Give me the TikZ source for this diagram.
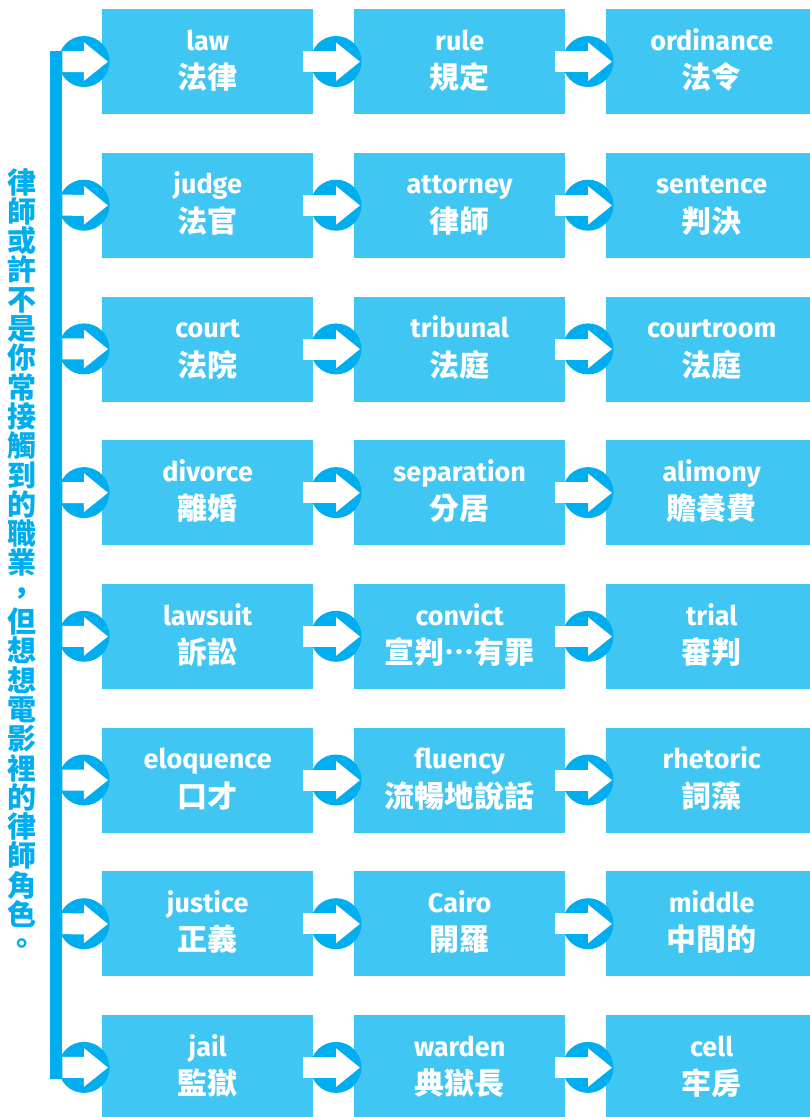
\documentclass[tikz,border=0pt]{standalone}
\usepackage{fontspec}
\setmainfont{Noto Sans CJK TC}
\newfontfamily\latinfont{Fira Sans}[Ligatures=NoCommon]
\newfontfamily\twfont{Noto Sans CJK TC}[Language=Chinese Traditional,CharacterWidth=Full]
\usetikzlibrary{arrows.meta}
\definecolor{boxblue}{RGB}{64,198,242}
\definecolor{darkblue}{RGB}{0,174,239}
\newcommand{\midell}{{\twfont\bfseries …}}
\tikzset{
  termbox/.style={fill=boxblue, draw=none, minimum width=211pt, minimum height=105pt, inner sep=0pt, anchor=north west},
  hub/.style={circle, fill=darkblue, draw=none, minimum size=51pt, inner sep=0pt},
  flow/.style={white, line width=21pt, -{Triangle[length=24pt,width=37pt]}},
  en/.style={text=white, font=\latinfont\bfseries\fontsize{27}{27}\selectfont, anchor=base, inner sep=0pt},
  zh/.style={text=white, font=\bfseries\fontsize{30}{30}\selectfont, anchor=base, inner sep=0pt},
  vt/.style={text=darkblue, font=\bfseries\fontsize{29}{29}\selectfont, inner sep=0pt, text height=25.5pt, text depth=3.5pt},
  spine/.style={fill=darkblue, draw=none, minimum width=12pt, minimum height=1028pt, inner sep=0pt, anchor=north west}
}
\begin{document}
\begin{tikzpicture}[x=1pt,y=-1pt]
\clip (0,0) rectangle (810,1117);
\fill[white] (0,0) rectangle (810,1117);
% vertical text
\foreach \c [count=\i from 0] in {律,師,或,許,不,是,你,常,接,觸,到,的,職,業,，,但,想,想,電,影,裡,的,律,師,角,色,。}{
  \node[vt] (v\i) at (21.5, 182+\i*29.3) {\c};
}
% spine
\node[spine] (bar) at (50,51) {};
% rows
\foreach \r/\ea/\za/\eb/\zb/\ec/\zc in {
  1/law/法律/rule/規定/ordinance/法令,
  2/judge/法官/attorney/律師/sentence/判決,
  3/court/法院/tribunal/法庭/courtroom/法庭,
  4/divorce/離婚/separation/分居/alimony/贍養費,
  5/lawsuit/訴訟/convict/宣判\midell 有罪/trial/審判,
  6/eloquence/口才/fluency/流暢地說話/rhetoric/詞藻,
  7/justice/正義/Cairo/開羅/middle/中間的,
  8/jail/監獄/warden/典獄長/cell/牢房}{
  \pgfmathsetmacro{\yt}{9+(\r-1)*143.7}
  \node[termbox] (b\r1) at (102,\yt) {};
  \node[termbox] (b\r2) at (354,\yt) {};
  \node[termbox] (b\r3) at (606,\yt) {};
  \node[en] (e\r1) at ([yshift=11.5pt]b\r1.center) {\ea};
  \node[zh] (z\r1) at ([yshift=-27pt]b\r1.center) {\za};
  \node[en] (e\r2) at ([yshift=11.5pt]b\r2.center) {\eb};
  \node[zh] (z\r2) at ([yshift=-27pt]b\r2.center) {\zb};
  \node[en] (e\r3) at ([yshift=11.5pt]b\r3.center) {\ec};
  \node[zh] (z\r3) at ([yshift=-27pt]b\r3.center) {\zc};
  \node[hub] (h\r1) at (84,\yt+52.5) {};
  \node[hub] (h\r2) at (336,\yt+52.5) {};
  \node[hub] (h\r3) at (588,\yt+52.5) {};
  \coordinate (s\r) at (bar.east |- h\r1.center);
  \draw[flow] (s\r) -- ([xshift=6pt]b\r1.west);
  \draw[flow] ([xshift=-10pt]b\r1.east) -- ([xshift=6pt]b\r2.west);
  \draw[flow] ([xshift=-10pt]b\r2.east) -- ([xshift=6pt]b\r3.west);
}
\end{tikzpicture}
\end{document}
